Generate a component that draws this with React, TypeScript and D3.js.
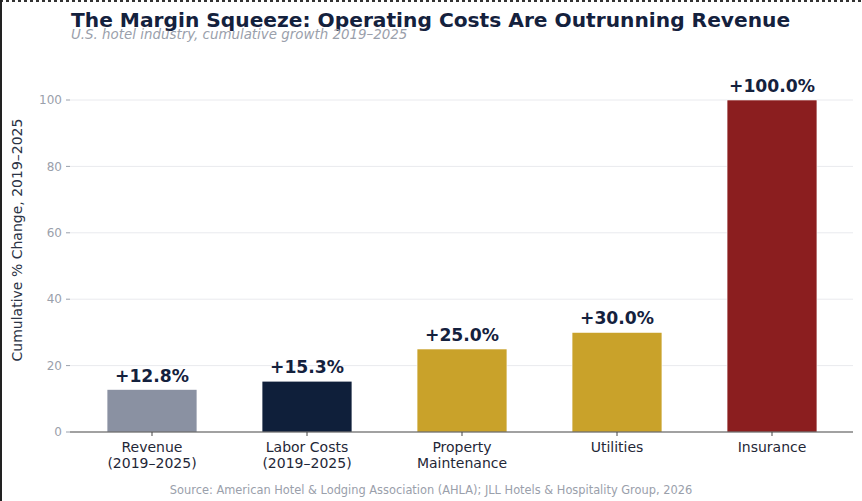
import React from "react";
import * as d3 from "d3";

const categories: string[][] = [
  ["Revenue", "(2019–2025)"],
  ["Labor Costs", "(2019–2025)"],
  ["Property", "Maintenance"],
  ["Utilities"],
  ["Insurance"],
];
const values: number[] = [12.8, 15.3, 25.0, 30.0, 100.0];
const barColors: string[] = ["#8a91a2", "#0f1f3a", "#c9a22a", "#c9a22a", "#8b1e1f"];
const yTicks: number[] = [0, 20, 40, 60, 80, 100];

const W = 862;
const H = 501;
const FONT = "'DejaVu Sans', sans-serif";

export default function App() {
  const keys = categories.map((c) => c.join(" "));
  const x = d3
    .scaleBand<string>()
    .domain(keys)
    .range([74.5, 849.5])
    .paddingInner(0.42)
    .paddingOuter(0.21);
  const y = d3.scaleLinear().domain([0, 100]).range([432, 100]);
  const plotLeft = 70;
  const plotRight = 853;

  return (
    <svg
      width={W}
      height={H}
      style={{ position: "absolute", top: 0, left: 0, background: "#fff" }}
      fontFamily={FONT}
    >
      <rect x={0} y={0} width={W} height={H} fill="#ffffff" />
      <line x1={0} y1={1} x2={W} y2={1} stroke="#333" strokeWidth={2} strokeDasharray="3,3" />
      <line x1={1} y1={0} x2={1} y2={H} stroke="#222" strokeWidth={2} />

      <text x={71} y={27} fontSize={20.2} fontWeight="bold" fill="#14213d">
        The Margin Squeeze: Operating Costs Are Outrunning Revenue
      </text>
      <text x={71} y={38.5} fontSize={13.4} fontStyle="italic" fill="#9aa0ab">
        U.S. hotel industry, cumulative growth 2019–2025
      </text>

      {yTicks.map((t) => (
        <g key={t}>
          {t !== 0 && (
            <line x1={plotLeft} x2={plotRight} y1={y(t)} y2={y(t)} stroke="#e9eaee" strokeWidth={1} />
          )}
          <line x1={plotLeft - 4} x2={plotLeft} y1={y(t)} y2={y(t)} stroke="#9aa0ab" strokeWidth={1} />
          <text x={plotLeft - 8} y={y(t)} dy="0.35em" textAnchor="end" fontSize={12} fill="#9aa0ab">
            {t}
          </text>
        </g>
      ))}

      <text
        transform={`translate(22,240) rotate(-90)`}
        textAnchor="middle"
        fontSize={14}
        fill="#2b3345"
      >
        Cumulative % Change, 2019–2025
      </text>

      {keys.map((k, i) => (
        <g key={k}>
          <rect
            x={x(k)!}
            y={y(values[i])}
            width={x.bandwidth()}
            height={y(0) - y(values[i])}
            fill={barColors[i]}
            stroke="#ffffff"
            strokeWidth={0.6}
          />
          <text
            x={x(k)! + x.bandwidth() / 2}
            y={y(values[i]) - 8}
            textAnchor="middle"
            fontSize={17.2}
            fontWeight="bold"
            fill="#14213d"
          >
            {`+${values[i].toFixed(1)}%`}
          </text>
          <line
            x1={x(k)! + x.bandwidth() / 2}
            x2={x(k)! + x.bandwidth() / 2}
            y1={432}
            y2={436}
            stroke="#444"
            strokeWidth={1}
          />
          {categories[i].map((line, j) => (
            <text
              key={j}
              x={x(k)! + x.bandwidth() / 2}
              y={452 + j * 16}
              textAnchor="middle"
              fontSize={14}
              fill="#1f2737"
            >
              {line}
            </text>
          ))}
        </g>
      ))}

      <line x1={plotLeft} x2={plotRight} y1={432} y2={432} stroke="#444" strokeWidth={1.2} />

      <text x={431} y={494} textAnchor="middle" fontSize={11.4} fill="#9aa0ab">
        Source: American Hotel &amp; Lodging Association (AHLA); JLL Hotels &amp; Hospitality Group, 2026
      </text>
    </svg>
  );
}
